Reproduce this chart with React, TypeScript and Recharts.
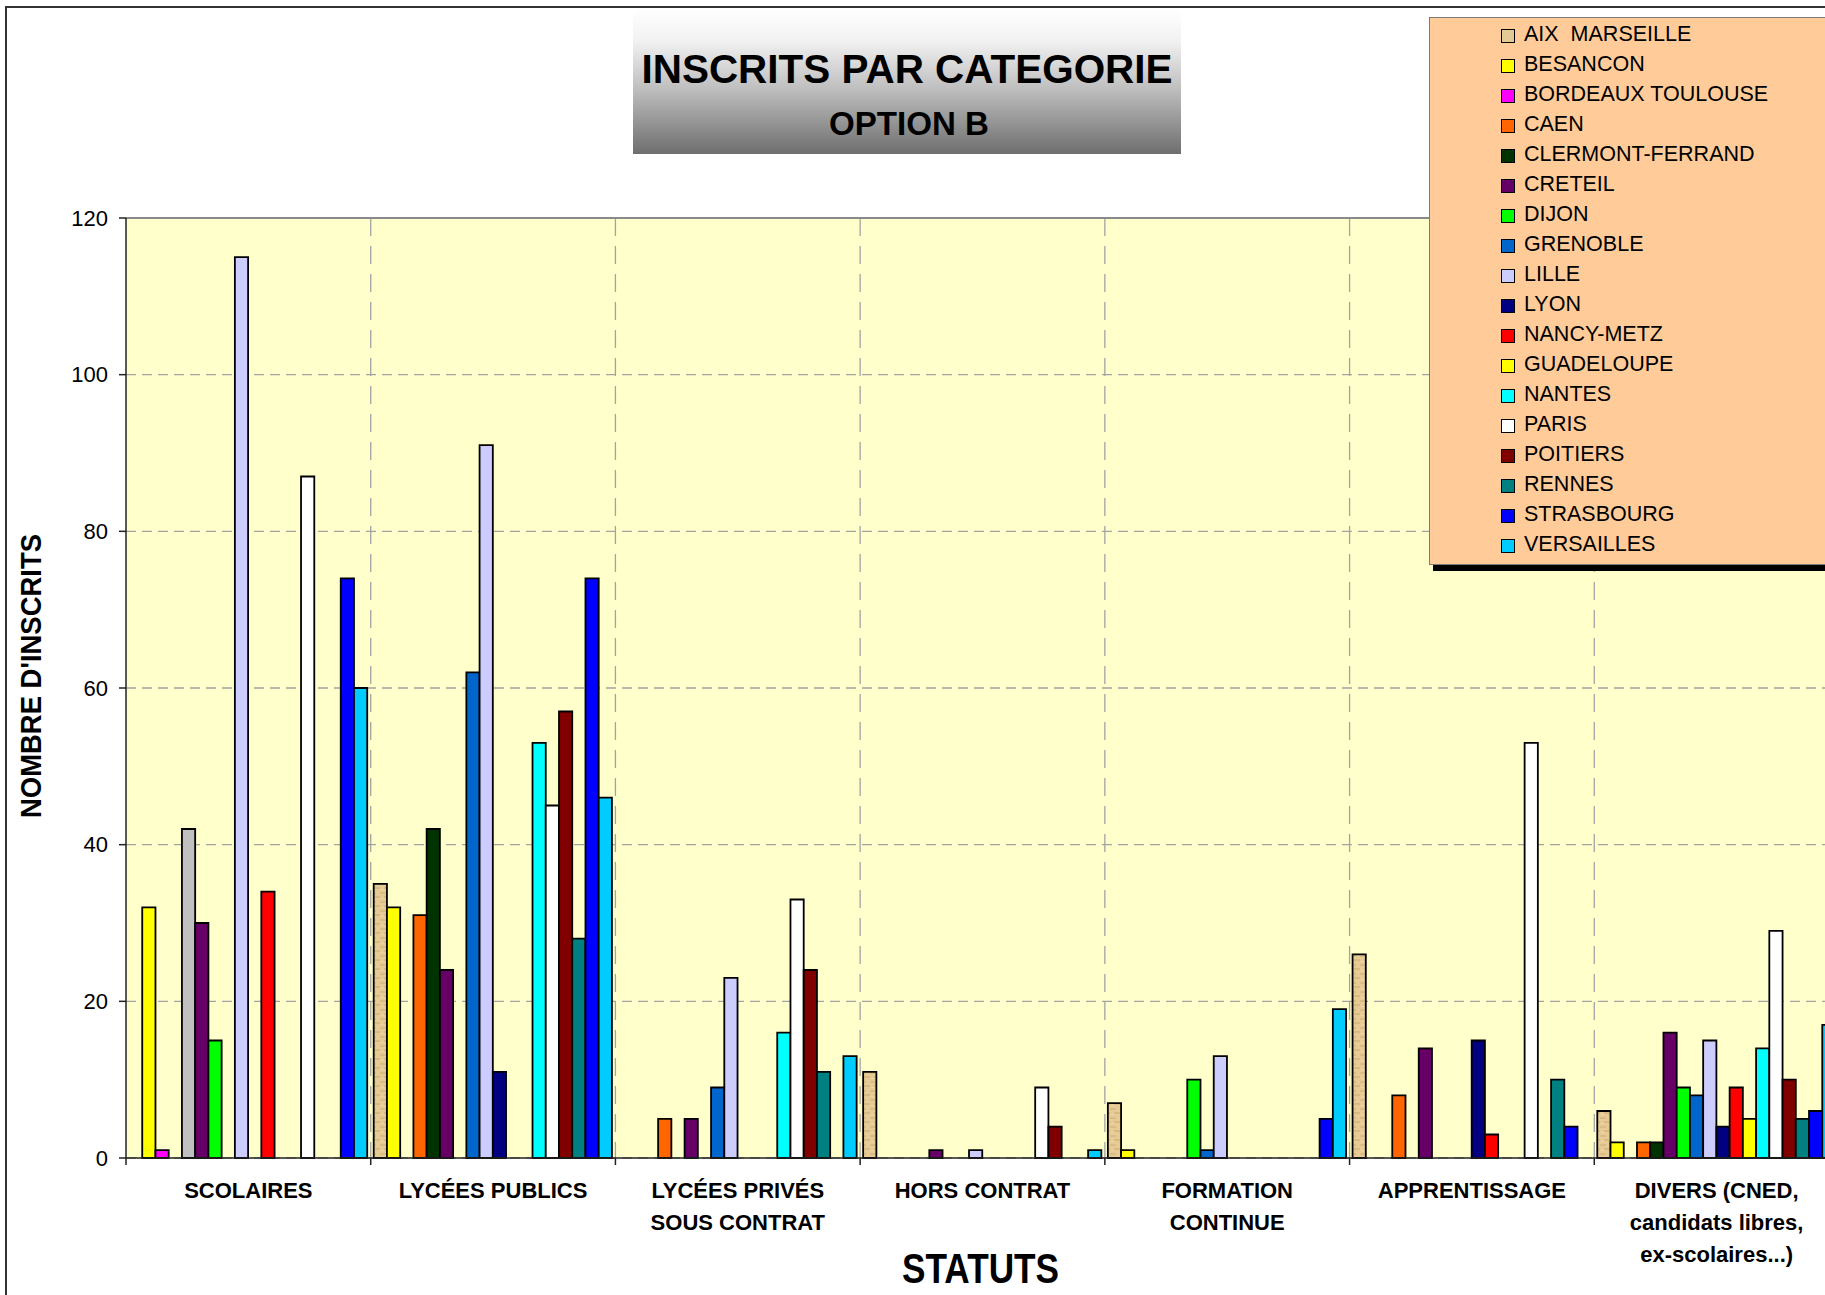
import React from "react"
import {
    BarChart,
    Bar,
    XAxis,
    YAxis,
    CartesianGrid,
    Legend,
    ReferenceLine,
    Cell,
} from "recharts"

const categories = [
    "SCOLAIRES",
    "LYCÉES PUBLICS",
    "LYCÉES PRIVÉS\nSOUS CONTRAT",
    "HORS CONTRAT",
    "FORMATION\nCONTINUE",
    "APPRENTISSAGE",
    "DIVERS (CNED,\ncandidats libres,\nex-scolaires...)",
]

const seriesNames = [
    "AIX  MARSEILLE",
    "BESANCON",
    "BORDEAUX TOULOUSE",
    "CAEN",
    "CLERMONT-FERRAND",
    "CRETEIL",
    "DIJON",
    "GRENOBLE",
    "LILLE",
    "LYON",
    "NANCY-METZ",
    "GUADELOUPE",
    "NANTES",
    "PARIS",
    "POITIERS",
    "RENNES",
    "STRASBOURG",
    "VERSAILLES",
]

const aixMarseille = [0, 35, 0, 11, 7, 26, 6]
const besancon = [32, 32, 0, 0, 1, 0, 2]
const bordeauxToulouse = [1, 0, 0, 0, 0, 0, 0]
const caen = [0, 31, 5, 0, 0, 8, 2]
const clermontFerrand = [42, 42, 0, 0, 0, 0, 2]
const creteil = [30, 24, 5, 1, 0, 14, 16]
const dijon = [15, 0, 0, 0, 10, 0, 9]
const grenoble = [0, 62, 9, 0, 1, 0, 8]
const lille = [115, 91, 23, 1, 13, 0, 15]
const lyon = [0, 11, 0, 0, 0, 15, 4]
const nancyMetz = [34, 0, 0, 0, 0, 3, 9]
const guadeloupe = [0, 0, 0, 0, 0, 0, 5]
const nantes = [0, 53, 16, 0, 0, 0, 14]
const paris = [87, 45, 33, 9, 0, 53, 29]
const poitiers = [0, 57, 24, 4, 0, 0, 10]
const rennes = [0, 28, 11, 0, 0, 10, 5]
const strasbourg = [74, 74, 0, 0, 5, 4, 6]
const versailles = [60, 46, 13, 1, 19, 0, 17]

const yTicks = [0, 20, 40, 60, 80, 100, 120]

const seriesValues = [
    aixMarseille, besancon, bordeauxToulouse, caen, clermontFerrand, creteil,
    dijon, grenoble, lille, lyon, nancyMetz, guadeloupe, nantes, paris,
    poitiers, rennes, strasbourg, versailles,
]

const seriesColors = [
    "url(#aixTexture)", "#FFFF00", "#FF00FF", "#FF6600", "#003300", "#660066",
    "#00FF00", "#0066CC", "#CCCCFF", "#000080", "#FF0000", "#FFFF00",
    "#00FFFF", "#FFFFFF", "#800000", "#008080", "#0000FF", "#00CCFF",
]
const legendColors = seriesColors.map((c, i) => (i === 0 ? "#E2C995" : c))
// the SCOLAIRES bar of Clermont-Ferrand is drawn grey in the original
const clermontScolairesFill = "#C0C0C0"

const data = categories.map((cat, i) => {
    const row: Record<string, string | number> = { cat }
    seriesValues.forEach((vals, s) => {
        row[`s${s}`] = vals[i]
    })
    return row
})

const FONT = '"Liberation Sans", Arial, sans-serif'
const CHART_W = 1860
const CHART_H = 1295
const Y_AXIS_W = 126
const MARGIN = { top: 218, right: 21, bottom: 37, left: 0 }
const BAND = (CHART_W - Y_AXIS_W - MARGIN.left - MARGIN.right) / categories.length
// bars fill the band except ~3px on each side
const BAR_W = (BAND - 6.5) / seriesNames.length

function CategoryTick(props: any) {
    const { x, y, payload } = props
    const lines = String(payload.value).split("\n")
    return (
        <g>
            <line x1={x - BAND / 2} x2={x - BAND / 2} y1={y} y2={y + 7} stroke="#222" strokeWidth={1.5} />
            <text textAnchor="middle" fontFamily={FONT} fontWeight="bold" fontSize={22} fill="#000">
                {lines.map((l, i) => (
                    <tspan key={i} x={x} y={y + 40 + i * 32}>
                        {l}
                    </tspan>
                ))}
            </text>
        </g>
    )
}

function LegendBox() {
    return (
        <div
            style={{
                position: "relative",
                width: 600,
                height: 548,
                boxSizing: "border-box",
                background: "#FFCC99",
                borderLeft: "1.5px solid #7a7a7a",
                borderTop: "1.5px solid #7a7a7a",
                borderBottom: "1.5px solid #7a7a7a",
                boxShadow: "4px 6px 0 #000",
                fontFamily: FONT,
            }}
        >
            {seriesNames.map((name, i) => (
                <div
                    key={name}
                    style={{
                        position: "absolute",
                        left: 0,
                        top: 1 + i * 30,
                        height: 30,
                        lineHeight: "30px",
                        fontSize: 21.5,
                        color: "#000",
                        whiteSpace: "pre",
                    }}
                >
                    <span
                        style={{
                            position: "absolute",
                            left: 71,
                            top: 10,
                            width: 14,
                            height: 14,
                            boxSizing: "border-box",
                            border: "1.5px solid #000",
                            background: legendColors[i],
                        }}
                    />
                    <span style={{ position: "absolute", left: 94, top: 0 }}>{name}</span>
                </div>
            ))}
        </div>
    )
}

export default function App() {
    return (
        <div
            style={{
                position: "absolute",
                left: 0,
                top: 0,
                width: 1825,
                height: 1295,
                overflow: "hidden",
                background: "#fff",
            }}
        >
            {/* chart area border */}
            <div
                style={{
                    position: "absolute",
                    left: 5,
                    top: 6,
                    width: 1900,
                    height: 1400,
                    borderLeft: "2px solid #333",
                    borderTop: "2px solid #333",
                }}
            />

            {/* title box */}
            <div
                style={{
                    position: "absolute",
                    left: 633,
                    top: 8,
                    width: 548,
                    height: 146,
                    background: "linear-gradient(#ffffff 0%, #f2f2f2 22%, #bfbfbf 55%, #6e6e6e 100%)",
                }}
            />

            <div style={{ position: "absolute", left: 0, top: 0 }}>
                <BarChart
                    width={CHART_W}
                    height={CHART_H}
                    data={data}
                    margin={MARGIN}
                    barGap={0}
                    barCategoryGap={3}
                >
                    <defs>
                        <pattern id="aixTexture" width="10" height="9" patternUnits="userSpaceOnUse">
                            <rect width="10" height="9" fill="#E6CB96" />
                            <rect x="0" y="1" width="6" height="2" fill="#D8B97F" opacity="0.8" />
                            <rect x="4" y="5" width="6" height="2" fill="#D3B47A" opacity="0.7" />
                            <rect x="1" y="7" width="3" height="1" fill="#F0D8A8" opacity="0.9" />
                        </pattern>
                    </defs>
                    <CartesianGrid
                        vertical={false}
                        stroke="#A3A3A3"
                        strokeWidth={1.3}
                        strokeDasharray="10 6"
                        fill="#FFFFCC"
                    />
                    <CartesianGrid
                        horizontal={false}
                        stroke="#A3A3A3"
                        strokeWidth={1.3}
                        strokeDasharray="18 10"
                        verticalCoordinatesGenerator={({ offset }: any) =>
                            categories.map((_, i) => offset.left + ((i + 1) * offset.width) / categories.length)
                        }
                    />
                    <ReferenceLine y={120} stroke="#8a8a8a" strokeWidth={2} />
                    <XAxis
                        dataKey="cat"
                        interval={0}
                        height={100}
                        tickSize={0}
                        tickMargin={0}
                        tickLine={false}
                        axisLine={{ stroke: "#222", strokeWidth: 1.5 }}
                        tick={<CategoryTick />}
                    />
                    <YAxis
                        width={Y_AXIS_W}
                        domain={[0, 120]}
                        ticks={yTicks}
                        interval={0}
                        tickSize={7}
                        tickMargin={11}
                        axisLine={{ stroke: "#222", strokeWidth: 1.5 }}
                        tickLine={{ stroke: "#222", strokeWidth: 1.5 }}
                        tick={{ fontSize: 22, fill: "#000", fontFamily: FONT }}
                    />
                    <Legend
                        layout="horizontal"
                        verticalAlign="middle"
                        align="center"
                        wrapperStyle={{ left: 1429, top: 17, width: 600, height: 548 }}
                        content={() => <LegendBox />}
                    />
                    {seriesNames.map((name, s) => (
                        <Bar
                            key={name}
                            dataKey={`s${s}`}
                            name={name}
                            barSize={BAR_W}
                            fill={seriesColors[s]}
                            stroke="#000"
                            strokeWidth={1.8}
                            isAnimationActive={false}
                        >
                            {data.map((_, i) => (
                                <Cell
                                    key={`cell-${i}`}
                                    fill={s === 4 && i === 0 ? clermontScolairesFill : seriesColors[s]}
                                />
                            ))}
                        </Bar>
                    ))}
                </BarChart>
            </div>

            {/* texts drawn outside of the plot */}
            <svg
                width={1825}
                height={1295}
                style={{ position: "absolute", left: 0, top: 0, pointerEvents: "none" }}
            >
                <text
                    x={907}
                    y={83}
                    textAnchor="middle"
                    fontFamily={FONT}
                    fontWeight="bold"
                    fontSize={40}
                    textLength={531}
                    lengthAdjust="spacingAndGlyphs"
                    fill="#000"
                >
                    INSCRITS PAR CATEGORIE
                </text>
                <text
                    x={909}
                    y={135}
                    textAnchor="middle"
                    fontFamily={FONT}
                    fontWeight="bold"
                    fontSize={33}
                    textLength={160}
                    lengthAdjust="spacingAndGlyphs"
                    fill="#000"
                >
                    OPTION B
                </text>
                <text
                    x={40.7}
                    y={676}
                    transform="rotate(-90 40.7 676)"
                    textAnchor="middle"
                    fontFamily={FONT}
                    fontWeight="bold"
                    fontSize={30}
                    textLength={284}
                    lengthAdjust="spacingAndGlyphs"
                    fill="#000"
                >
                    NOMBRE D'INSCRITS
                </text>
                <text
                    x={902}
                    y={1283}
                    fontFamily={FONT}
                    fontWeight="bold"
                    fontSize={42}
                    textLength={157}
                    lengthAdjust="spacingAndGlyphs"
                    fill="#000"
                >
                    STATUTS
                </text>
            </svg>
        </div>
    )
}
